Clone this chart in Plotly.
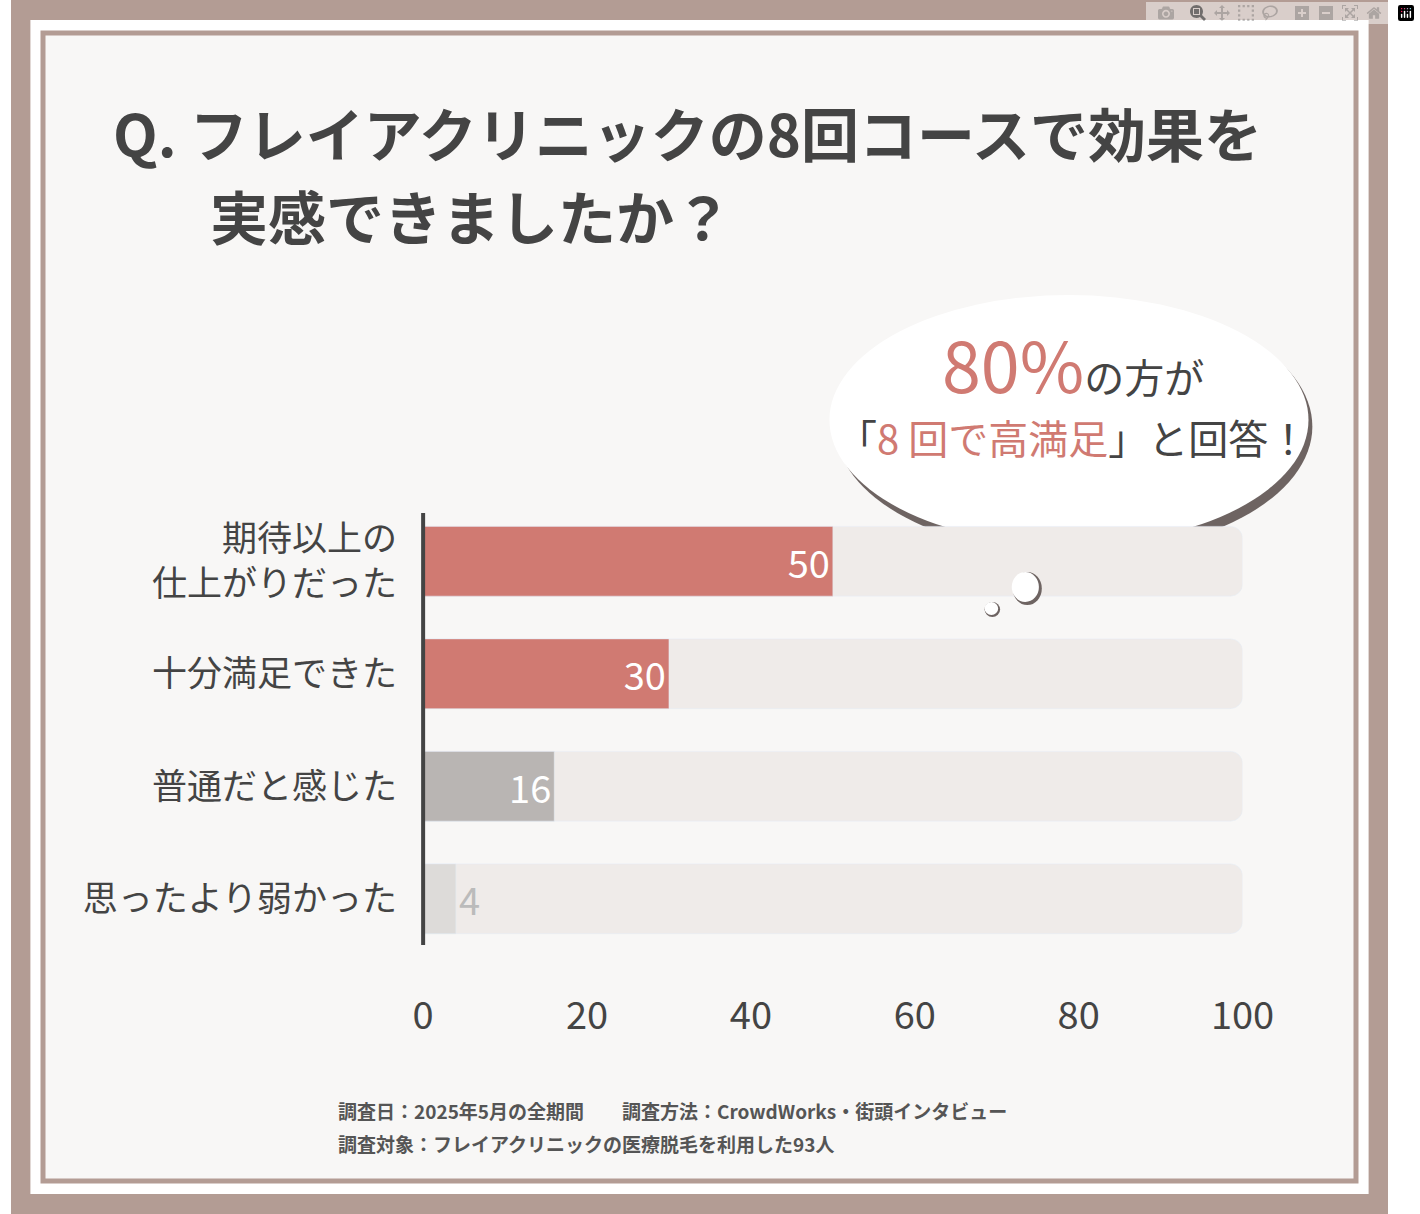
import plotly.graph_objects as go

categories = ["期待以上の<br>仕上がりだった", "十分満足できた", "普通だと感じた", "思ったより弱かった"]
values = [50, 30, 16, 4]
bar_colors = ["#d07a72", "#d07a72", "#b9b5b3", "#dddbd9"]
text_colors = ["white", "white", "white", "#bbbbbb"]
tick_vals = [0, 20, 40, 60, 80, 100]

W, H = 1420, 1214
FONT = "Noto Sans CJK JP"

fig = go.Figure()
fig.add_trace(go.Bar(y=categories, x=[100]*4, orientation="h", marker=dict(color="#efebe9", cornerradius=12),
                     width=0.62, hoverinfo="skip", showlegend=False))
fig.add_trace(go.Bar(y=categories, x=values, orientation="h",
                     marker=dict(color=bar_colors, cornerradius=12),
                     width=0.62, text=[str(v) for v in values],
                     textposition=["inside", "inside", "inside", "outside"],
                     insidetextanchor="end", textfont=dict(color=text_colors, size=38, family=FONT),
                     cliponaxis=False, showlegend=False))

S = "#6e6462"
shapes = [
    dict(type="rect", xref="paper", yref="paper", x0=0, x1=1, y0=0, y1=1, fillcolor="#b39c94", line_width=0, layer="below"),
    dict(type="rect", xref="paper", yref="paper", x0=20/W, x1=1-20/W, y0=20/H, y1=1-20/H, fillcolor="white", line_width=0, layer="below"),
    dict(type="rect", xref="paper", yref="paper", x0=33/W, x1=1-33/W, y0=33/H, y1=1-33/H, fillcolor="#f8f7f6",
         line=dict(color="#b39c94", width=5), layer="below"),
    dict(type="circle", xref="paper", yref="paper", x0=850/W, x1=1342/W, y0=1-555/H, y1=1-298/H, fillcolor=S, line_width=0, layer="below"),
    dict(type="path", xref="paper", yref="paper", path=f"M {1030/W} {1-530/H} L {1065/W} {1-565/H} L {1100/W} {1-530/H} Z", fillcolor=S, line_width=0, layer="below"),
    dict(type="circle", xref="paper", yref="paper", x0=844/W, x1=1338/W, y0=1-545/H, y1=1-295/H, fillcolor="white", line_width=0, layer="below"),
    dict(type="path", xref="paper", yref="paper", path=f"M {1030/W} {1-525/H} L {1062/W} {1-555/H} L {1095/W} {1-525/H} Z", fillcolor="white", line_width=0, layer="below"),
    dict(type="circle", xref="paper", yref="paper", x0=1033/W, x1=1063/W, y0=1-605/H, y1=1-572/H, fillcolor=S, line_width=0),
    dict(type="circle", xref="paper", yref="paper", x0=1032/W, x1=1060/W, y0=1-602/H, y1=1-572/H, fillcolor="white", line_width=0),
    dict(type="circle", xref="paper", yref="paper", x0=1004/W, x1=1020/W, y0=1-617/H, y1=1-602/H, fillcolor=S, line_width=0),
    dict(type="circle", xref="paper", yref="paper", x0=1004/W, x1=1018/W, y0=1-615/H, y1=1-602/H, fillcolor="white", line_width=0),
    dict(type="line", xref="paper", yref="paper", x0=425/W, x1=425/W, y0=1-945/H, y1=1-513/H, line=dict(color="#444", width=4)),
]

def ann(text, x, y, size, color="#444", xanchor="left", bold=False):
    t = f"<b>{text}</b>" if bold else text
    return dict(text=t, x=x/W, y=1-y/H, xref="paper", yref="paper", showarrow=False, xanchor=xanchor,
                yanchor="middle", font=dict(size=size, color=color, family=FONT))

annotations = [
    ann("Q. フレイアクリニックの8回コースで効果を", 103, 132, 58, bold=True),
    ann("実感できましたか？", 203, 215, 58, bold=True),
    ann('<span style="font-size:70px;color:#d07a72">80%</span>の方が', 1095, 362, 40, xanchor="center"),
    ann('「<span style="color:#d07a72">8 回で高満足</span>」と回答！', 1095, 437, 40, xanchor="center"),
    ann("<b>調査日：2025年5月の全期間　　調査方法：CrowdWorks・街頭インタビュー</b>", 335, 1110, 19, color="#555"),
    ann("<b>調査対象：フレイアクリニックの医療脱毛を利用した93人</b>", 335, 1143, 19, color="#555"),
]

fig.update_layout(
    width=W, height=H, margin=dict(l=0, r=0, t=0, b=0),
    paper_bgcolor="white", plot_bgcolor="rgba(0,0,0,0)",
    barmode="overlay", shapes=shapes, annotations=annotations,
    font=dict(family=FONT, color="#444"),
    xaxis=dict(domain=[425/W, 1270/W], range=[0, 100], tickvals=tick_vals, showgrid=False, zeroline=False,
               tickfont=dict(size=38, color="#444"), ticks="", ticklabelstandoff=35),
    yaxis=dict(domain=[1-955/H, 1-505/H], autorange="reversed", showgrid=False, zeroline=False,
               tickfont=dict(size=35, color="#444"), ticks="", ticklabelstandoff=25),
)
fig.write_html("out.html", post_script="document.body.style.margin='0';document.body.style.overflow='hidden';")
